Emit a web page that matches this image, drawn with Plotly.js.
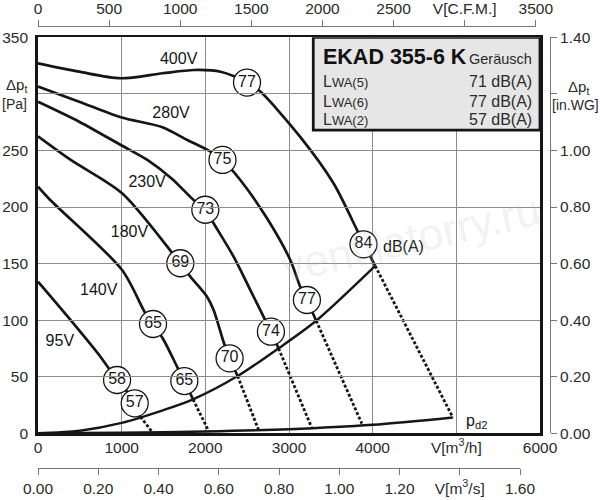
<!DOCTYPE html>
<html><head><meta charset="utf-8">
<script src="https://cdn.plot.ly/plotly-3.0.1.min.js"></script>
<style>html,body{margin:0;padding:0;background:#fff}</style>
</head><body><div id="chart" style="width:600px;height:500px"></div>
<script>
// ---- data (V in m3/h, pressure in Pa) ----
const v400X = [0, 492, 989, 1487, 1865, 2183, 2498, 2657, 3134, 3532, 3811, 3890, 4030];
const v400Y = [327, 319.6, 313.8, 318.2, 321.1, 319.6, 310, 302, 262, 221, 180, 168, 148];
const v280X = [0, 492, 989, 1487, 1785, 2063, 2205, 2418, 2737, 3015, 3134, 3214, 3325];
const v280Y = [306.4, 293.1, 279.3, 270.5, 259.2, 248.9, 241.6, 223.9, 190, 153.2, 129.6, 117.8, 99.5];
const v230X = [0, 492, 989, 1307, 1600, 1860, 2000, 2099, 2338, 2537, 2716, 2784, 2875];
const v230Y = [293, 275.4, 254.8, 241.6, 225, 206.2, 198, 185.6, 156.1, 126.7, 100.1, 89.8, 75.1];
const v180X = [0, 392, 1005, 1582, 1701, 1821, 2020, 2099, 2219, 2290, 2386];
const v180Y = [262.5, 241.6, 212.1, 161.5, 150.3, 138.4, 120.7, 109, 80.5, 66.3, 50.6];
const v140X = [0, 149, 1005, 1284, 1375, 1502, 1662, 1749, 1853];
const v140Y = [218, 206, 144.3, 106, 96.6, 82.5, 58.9, 46.2, 30];
const v95X = [0, 388, 746, 945, 1065, 1156, 1224];
const v95Y = [134, 100.2, 67.7, 47.1, 36.8, 26.5, 14.7];
const sysX = [0, 500, 1000, 1500, 1853, 2386, 2875, 3325, 4030];
const sysY = [0, 2.3, 9.2, 20.5, 30, 50.6, 75.1, 99.5, 148];
const pd2X = [0, 1000, 2000, 3000, 4000, 4958];
const pd2Y = [0, 0.5, 1.6, 3.6, 7.5, 14];
// dashed continuations: start (end of fan curve) -> pd2 curve
const dashStartX = [1224, 1853, 2386, 2875, 3325, 4030];
const dashStartY = [14.7, 30, 50.6, 75.1, 99.5, 148];
const dashEndX = [1364, 2040, 2637, 3274, 3871, 4958];
const dashEndY = [1.2, 2, 2.8, 4.5, 8.5, 14];
// noise level circles dB(A)
const circX = [2498, 3890, 2205, 3214, 2000, 2784, 1701, 2290, 1375, 1749, 945, 1156];
const circY = [310, 167, 241.6, 117.8, 197.6, 89.8, 150.3, 66.3, 96.6, 46.2, 47.1, 26.5];
const circT = ['77', '84', '75', '77', '73', '74', '69', '70', '65', '65', '58', '57'];
// voltage labels
const voltT = ['400V', '280V', '230V', '180V', '140V', '95V'];
const voltX = [1681, 1590, 1304, 1093, 726, 261];
const voltY = [330, 282, 221.5, 176.8, 126, 81];
// axes ticks
const xTickVals = [0, 1000, 2000, 3000, 4000, 5000, 6000];
const xTickText = ['0', '1000', '2000', '3000', '4000', 'V[m<sup>3</sup>/h]', '6000'];
const yTickVals = [0, 50, 100, 150, 200, 250, 300, 350];
const yTickText = ['0', '50', '100', '150', '200', '250', '', '350'];
const cfmTickVals = [0, 500, 1000, 1500, 2000, 2500, 3000, 3500];
const cfmTickText = ['0', '500', '1000', '1500', '2000', '2500', 'V[C.F.M.]', '3500'];
const m3sTickVals = [0, 0.2, 0.4, 0.6, 0.8, 1.0, 1.2, 1.4, 1.6];
const m3sTickText = ['0.00', '0.20', '0.40', '0.60', '0.80', '1.00', '1.20', 'V[m<sup>3</sup>/s]', '1.60'];
const wgTickVals = [0, 0.2, 0.4, 0.6, 0.8, 1.0, 1.2, 1.4];
const wgTickText = ['0.00', '0.20', '0.40', '0.60', '0.80', '1.00', '', '1.40'];
// info box
const boxTitle = 'EKAD 355-6 K';
const boxSub = 'Geräusch';
const lwaNames = ['L<span style="font-size:13px">WA(5)</span>', 'L<span style="font-size:13px">WA(6)</span>', 'L<span style="font-size:13px">WA(2)</span>'];
const lwaVals = ['71 dB(A)', '77 dB(A)', '57 dB(A)'];

const FONT = 'Arial, "Liberation Sans", sans-serif';
const INK = '#161616';
const TXT = '#2a2a2a';

function curve(x, y, w) {
  return {x: x, y: y, mode: 'lines', line: {color: INK, width: w || 2.7, shape: 'spline', smoothing: 0.8},
    hoverinfo: 'skip', showlegend: false};
}
const traces = [
  curve(v400X, v400Y), curve(v280X, v280Y), curve(v230X, v230Y),
  curve(v180X, v180Y), curve(v140X, v140Y), curve(v95X, v95Y),
  curve(sysX, sysY, 2.4), curve(pd2X, pd2Y, 2.4)
];
for (let i = 0; i < dashStartX.length; i++) {
  traces.push({x: [dashStartX[i], dashEndX[i]], y: [dashStartY[i], dashEndY[i]], mode: 'lines',
    line: {color: INK, width: 2.8, dash: '3px,2px'}, hoverinfo: 'skip', showlegend: false});
}
traces.push({x: circX, y: circY, text: circT, mode: 'markers+text', textposition: 'middle center',
  marker: {size: 27, color: 'white', line: {color: INK, width: 1.3}},
  textfont: {size: 16, color: INK, family: FONT}, hoverinfo: 'skip', showlegend: false, cliponaxis: false});
traces.push({x: voltX, y: voltY, text: voltT, mode: 'text', textposition: 'middle center',
  textfont: {size: 16, color: INK, family: FONT}, hoverinfo: 'skip', showlegend: false});
// invisible anchor traces so that the secondary scales are drawn
traces.push({x: [0], y: [0], xaxis: 'x2', yaxis: 'y', mode: 'markers', marker: {opacity: 0}, hoverinfo: 'skip', showlegend: false});
traces.push({x: [0], y: [0], xaxis: 'x3', yaxis: 'y', mode: 'markers', marker: {opacity: 0}, hoverinfo: 'skip', showlegend: false});
traces.push({x: [0], y: [0], xaxis: 'x', yaxis: 'y2', mode: 'markers', marker: {opacity: 0}, hoverinfo: 'skip', showlegend: false});

// geometry (pixels -> paper fractions)
const W = 600, H = 500, L = 38, R = 40, T = 10, B = 10;
const pw = W - L - R, ph = H - T - B;
const px = v => (v - L) / pw;
const py = v => (H - B - v) / ph;
const yDom = [py(433.3), py(37.3)];

const axFont = {size: 15.5, color: TXT, family: FONT};
const secAx = {showgrid: false, zeroline: false, showline: true, linecolor: '#777', linewidth: 1,
  ticks: 'outside', ticklen: 6, tickcolor: '#777', tickwidth: 1, tickfont: axFont, fixedrange: true};
const layout = {
  width: W, height: H,
  margin: {l: L, r: R, t: T, b: B},
  paper_bgcolor: 'white', plot_bgcolor: 'rgba(0,0,0,0)',
  font: {family: FONT, color: TXT},
  showlegend: false,
  xaxis: {domain: [0, px(540)], range: [0, 6000], tickvals: xTickVals, ticktext: xTickText,
    showgrid: true, gridcolor: '#8c8c8c', gridwidth: 1, zeroline: false,
    showline: true, mirror: true, linecolor: INK, linewidth: 2.8,
    ticks: '', ticklabelstandoff: -2, tickfont: axFont, fixedrange: true},
  yaxis: {domain: yDom, range: [0, 350], tickvals: yTickVals, ticktext: yTickText,
    showgrid: true, gridcolor: '#8c8c8c', gridwidth: 1, zeroline: false,
    showline: true, mirror: true, linecolor: INK, linewidth: 2.8,
    ticks: 'outside', ticklen: 4, tickcolor: 'rgba(0,0,0,0)', tickfont: axFont, fixedrange: true},
  xaxis2: Object.assign({anchor: 'free', position: py(26), side: 'top', domain: [0, px(535.8)], range: [0, 3500],
    tickvals: cfmTickVals, ticktext: cfmTickText}, secAx),
  xaxis3: Object.assign({anchor: 'free', position: py(468), side: 'bottom', domain: [0, px(520)], range: [0, 1.6],
    tickvals: m3sTickVals, ticktext: m3sTickText}, secAx),
  yaxis2: Object.assign({anchor: 'free', overlaying: 'y', position: px(550), side: 'right', range: [0, 1.4],
    tickvals: wgTickVals, ticktext: wgTickText}, secAx),
  shapes: [
    {type: 'rect', xref: 'x', yref: 'y', x0: 3290, x1: 6000, y0: 268, y1: 350,
     fillcolor: '#e6e6e6', line: {color: INK, width: 2.8}, layer: 'above'}
  ],
  annotations: [
    {xref: 'paper', yref: 'paper', x: px(16), y: py(85), xanchor: 'center', yanchor: 'middle', text: 'Δp<sub>t</sub>', showarrow: false, font: {size: 15, color: TXT}},
    {xref: 'paper', yref: 'paper', x: px(14), y: py(104), xanchor: 'center', yanchor: 'middle', text: '[Pa]', showarrow: false, font: {size: 14, color: TXT}},
    {xref: 'paper', yref: 'paper', x: px(578), y: py(88), xanchor: 'center', yanchor: 'middle', text: 'Δp<sub>t</sub>', showarrow: false, font: {size: 15, color: TXT}},
    {xref: 'paper', yref: 'paper', x: px(575), y: py(105), xanchor: 'center', yanchor: 'middle', text: '[in.WG]', showarrow: false, font: {size: 14, color: TXT}},
    {xref: 'x', yref: 'y', x: 4368, y: 165, xanchor: 'center', yanchor: 'middle', text: 'dB(A)', showarrow: false, font: {size: 16, color: INK}},
    {xref: 'x', yref: 'y', x: 5244, y: 10.5, xanchor: 'center', yanchor: 'middle', text: 'p<sub>d2</sub>', showarrow: false, font: {size: 16, color: INK}},
    {xref: 'paper', yref: 'paper', x: px(410), y: py(238), xanchor: 'center', yanchor: 'middle', text: 'ventilatorry.ru', showarrow: false, textangle: -13,
     font: {size: 44, color: 'rgba(190,190,190,0.2)'}},
    {xref: 'x', yref: 'y', x: 3382, y: 333, xanchor: 'left', yanchor: 'middle', text: '<b>' + boxTitle + '</b>', showarrow: false,
     font: {size: 21.5, color: '#111'}},
    {xref: 'x', yref: 'y', x: 5930, y: 331, xanchor: 'right', yanchor: 'middle', text: boxSub, showarrow: false,
     font: {size: 14.5, color: TXT}}
  ]
};
const rowY = [310.5, 293.7, 277.4];
for (let i = 0; i < lwaNames.length; i++) {
  layout.annotations.push({xref: 'x', yref: 'y', x: 3382, y: rowY[i], xanchor: 'left', yanchor: 'middle', text: lwaNames[i],
    showarrow: false, font: {size: 16, color: TXT}});
  layout.annotations.push({xref: 'x', yref: 'y', x: 5930, y: rowY[i], xanchor: 'right', yanchor: 'middle', text: lwaVals[i],
    showarrow: false, font: {size: 16, color: TXT}});
}
Plotly.newPlot('chart', traces, layout, {staticPlot: true, displayModeBar: false});
</script></body></html>
